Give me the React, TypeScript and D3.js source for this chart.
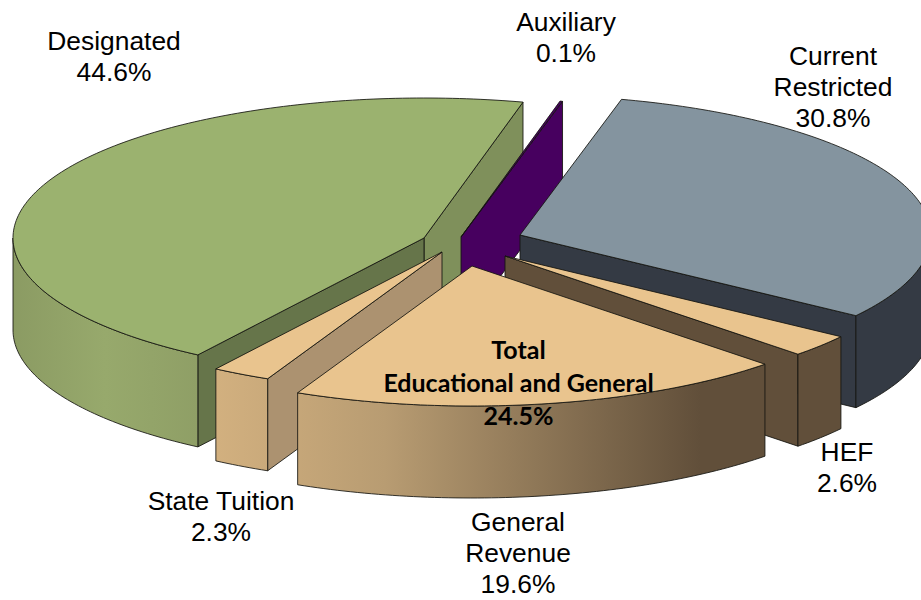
import React from "react";
import * as d3 from "d3";

const sliceNames = ["Current Restricted", "HEF", "General Revenue", "State Tuition", "Designated", "Auxiliary"];
const sliceValues = [30.8, 2.6, 19.6, 2.3, 44.6, 0.1];

const labelLines = [
  ["Current", "Restricted", "30.8%"],
  ["HEF", "2.6%"],
  ["General", "Revenue", "19.6%"],
  ["State Tuition", "2.3%"],
  ["Designated", "44.6%"],
  ["Auxiliary", "0.1%"],
];
const labelCentres = [833, 847, 518, 221, 114, 566];
const labelFirstBaselines = [65, 461, 531, 510, 50, 31];

const totalLines = ["Total", "Educational and General", "24.5%"];

// exploded apex of each slice, same order as sliceNames
const apexX = [520, 505, 472, 442, 424, 461];
const apexY = [235, 256, 266, 252, 238, 237];
const drawOrder = [4, 5, 0, 1, 3, 2];

const W = 921, H = 600, RX = 411, RY = 140, DEPTH = 92;
const deg = Math.PI / 180;
const START = 14.3 * deg;

const tops = ["#84949f", "#e9c48e", "#e9c48e", "#e9c48e", "#9bb26f", "#47005f"];
const endWalls = ["#343a44", "#614f3a", "#614f3a", "#614f3a", "#7f905b", "#47005f"];
const startWalls = ["#343a44", "#ac9270", "#ac9270", "#ac9270", "#66754a", "#47005f"];
const rimFills = ["#343a44", "url(#tanRim)", "url(#tanRim)", "url(#tanRim)", "url(#greenRim)", "#47005f"];
const EDGE = "rgba(20,20,15,0.85)";

const pieGen = d3.pie<number>().sort(null).startAngle(START).endAngle(START + 2 * Math.PI);
const arcs = pieGen(sliceValues);
const line = d3.line<[number, number]>();

const tScale = (a: number, b: number) => {
  const n = Math.max(2, Math.ceil((b - a) / deg) + 1);
  const s = d3.scaleLinear().domain([0, n - 1]).range([a, b]);
  return d3.range(n).map((i) => s(i));
};

function rim(i: number, t: number, dy = 0): [number, number] {
  return [apexX[i] + RX * Math.sin(t), apexY[i] - RY * Math.cos(t) + dy];
}

function Slice({ i }: { i: number }) {
  const a0 = arcs[i].startAngle;
  const a1 = arcs[i].endAngle;
  const ax = apexX[i], ay = apexY[i];
  const topPts: [number, number][] = [[ax, ay], ...tScale(a0, a1).map((t) => rim(i, t))];
  const wall = (t: number): [number, number][] => [[ax, ay], rim(i, t), rim(i, t, DEPTH), [ax, ay + DEPTH]];
  const showStart = Math.sin(a0) < 0;
  const showEnd = Math.sin(a1) > 0;
  const lo = Math.max(a0, 90 * deg), hi = Math.min(a1, 270 * deg);
  let rimPath: string | null = null;
  if (hi > lo) {
    const ts = tScale(lo, hi);
    const pts = [...ts.map((t) => rim(i, t)), ...ts.slice().reverse().map((t) => rim(i, t, DEPTH))];
    rimPath = line(pts) + "Z";
  }
  return (
    <g stroke={EDGE} strokeWidth={1} strokeLinejoin="round">
      {showEnd && <path d={line(wall(a1)) + "Z"} fill={endWalls[i]} />}
      {showStart && <path d={line(wall(a0)) + "Z"} fill={startWalls[i]} />}
      {rimPath && <path d={rimPath} fill={rimFills[i]} />}
      <path d={line(topPts) + "Z"} fill={tops[i]} />
    </g>
  );
}

export default function App() {
  return (
    <svg width={W} height={H} viewBox={`0 0 ${W} ${H}`} style={{ position: "fixed", left: 0, top: 0, background: "#fff" }}>
      <defs>
        <linearGradient id="tanRim" gradientUnits="userSpaceOnUse" x1={216} x2={700} y1={0} y2={0}>
          <stop offset="0" stopColor="#d2b07f" />
          <stop offset="0.35" stopColor="#b89c72" />
          <stop offset="1" stopColor="#614f3a" />
        </linearGradient>
        <linearGradient id="greenRim" gradientUnits="userSpaceOnUse" x1={12} x2={198} y1={0} y2={0}>
          <stop offset="0" stopColor="#8b9b63" />
          <stop offset="0.5" stopColor="#97a96c" />
          <stop offset="1" stopColor="#8f9f66" />
        </linearGradient>
      </defs>
      {drawOrder.map((i) => (
        <Slice key={sliceNames[i]} i={i} />
      ))}
      <g fontFamily="'Liberation Sans', Arial, sans-serif" fontSize={26.4} fill="#000" textAnchor="middle">
        {labelLines.map((lines, i) => (
          <text key={sliceNames[i]} x={labelCentres[i]} y={labelFirstBaselines[i]}>
            {lines.map((l, j) => (
              <tspan key={j} x={labelCentres[i]} dy={j === 0 ? 0 : 31}>{l}</tspan>
            ))}
          </text>
        ))}
      </g>
      <text x={518.5} y={359} fontFamily="Lato, sans-serif" fontWeight={700} fontSize={25} textAnchor="middle" fill="#000">
        {totalLines.map((l, j) => (
          <tspan key={j} x={518.5} dy={j === 0 ? 0 : 33}>{l}</tspan>
        ))}
      </text>
    </svg>
  );
}
